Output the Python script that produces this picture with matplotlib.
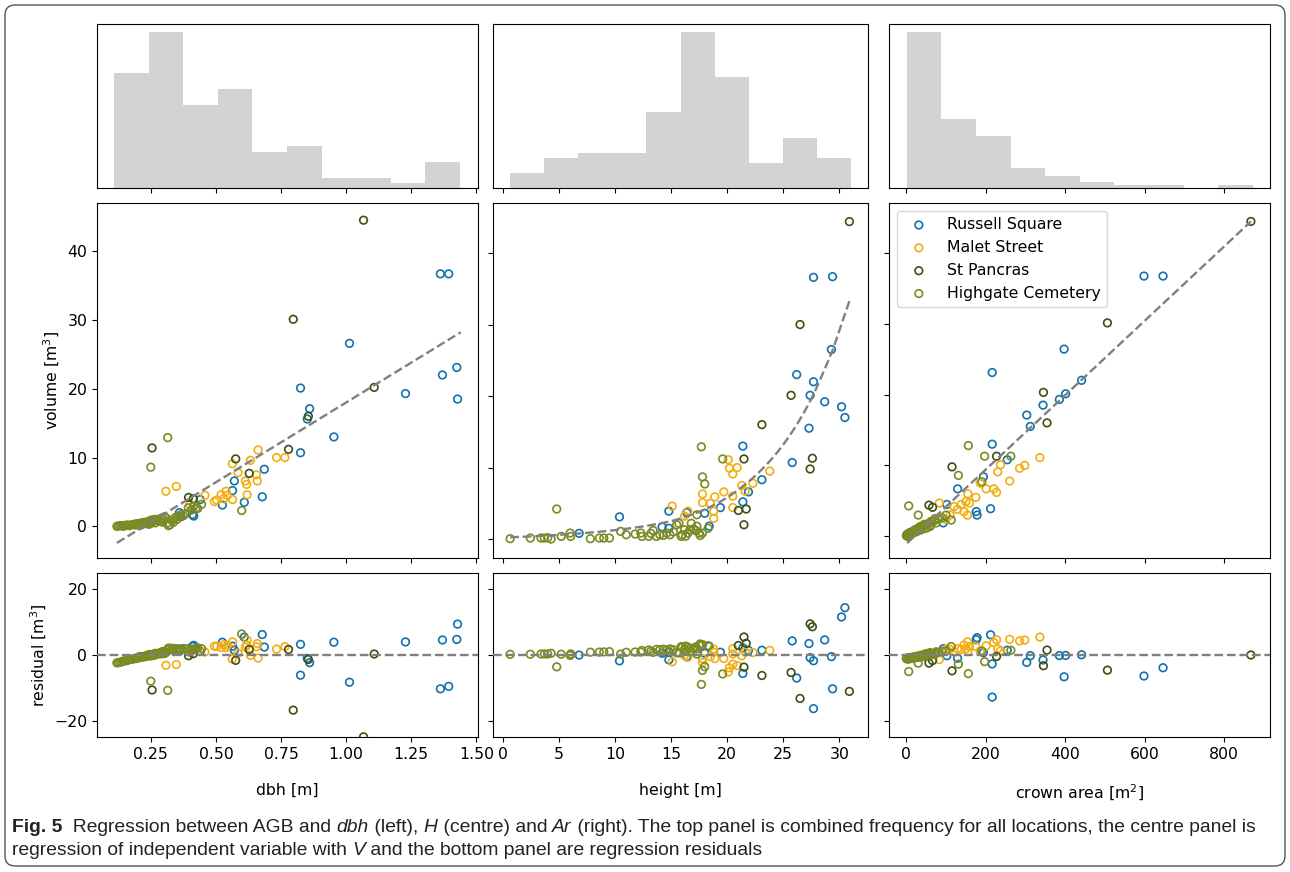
import numpy as np
import matplotlib.pyplot as plt
from matplotlib.patches import FancyBboxPatch

plt.rcParams['font.size'] = 11.3

# locations and their colours
sites = ['Russell Square', 'Malet Street', 'St Pancras', 'Highgate Cemetery']
colours = ['#1172ac', '#f2ae10', '#3f4f12', '#7b8a22']

# combined frequency (top row)
dbh_edges = [0.110, 0.243, 0.375, 0.508, 0.640, 0.773, 0.906, 1.038, 1.171, 1.303, 1.436]
dbh_counts = [22, 30, 16, 19, 7, 8, 2, 2, 1, 5]
h_edges = [0.64, 3.68, 6.72, 9.76, 12.80, 15.84, 18.88, 21.92, 24.96, 28.00, 31.04]
h_counts = [3, 6, 7, 7, 15, 31, 22, 5, 10, 6]
ca_edges = [1.5, 88.5, 175.5, 262.5, 349.5, 436.5, 523.5, 610.5, 697.5, 784.5, 871.5]
ca_counts = [54, 24, 18, 7, 4, 2, 1, 1, 0, 1]

# dbh [m] vs volume [m3]
rs_dbh = [1.362, 1.394, 1.013, 1.425, 1.37, 1.428, 1.228, 0.825, 0.86, 0.851, 0.953, 0.825,
          0.686, 0.678, 0.571, 0.564, 0.525, 0.609, 0.44, 0.41, 0.415, 0.36, 0.365]
rs_dbh_v = [36.7, 36.7, 26.6, 23.1, 22.0, 18.5, 19.3, 20.1, 17.1, 15.6, 13.0, 10.7,
            8.3, 4.3, 6.6, 5.2, 3.1, 3.5, 3.9, 1.7, 1.5, 2.0, 1.4]
ms_dbh = [0.662, 0.733, 0.765, 0.633, 0.563, 0.585, 0.656, 0.659, 0.613, 0.618, 0.62,
          0.539, 0.544, 0.564, 0.494, 0.503, 0.458, 0.308, 0.348, 0.40, 0.52, 0.53]
ms_dbh_v = [11.1, 10.0, 10.0, 9.6, 9.1, 7.8, 7.5, 6.6, 6.6, 6.1, 4.6,
            5.1, 4.5, 3.9, 3.6, 3.8, 4.5, 5.1, 5.8, 3.2, 4.6, 4.0]
sp_dbh = [1.067, 0.797, 1.108, 0.855, 0.576, 0.255, 0.395, 0.413, 0.628, 0.779]
sp_dbh_v = [44.5, 30.1, 20.2, 16.0, 9.8, 11.4, 4.2, 4.0, 7.7, 11.2]
hc_dbh = [0.315, 0.25, 0.599, 0.43, 0.445,
          0.12, 0.126, 0.133, 0.139, 0.145, 0.152, 0.16, 0.168, 0.177, 0.185, 0.19, 0.196,
          0.2, 0.207, 0.212, 0.215, 0.22, 0.225, 0.23, 0.235, 0.24, 0.243, 0.247, 0.25,
          0.255, 0.258, 0.262, 0.267, 0.273, 0.28, 0.286, 0.29, 0.295, 0.299, 0.303, 0.309,
          0.314, 0.318, 0.324, 0.33, 0.337, 0.345, 0.35, 0.356, 0.365, 0.375, 0.388, 0.394,
          0.407, 0.414, 0.424]
hc_dbh_v = [12.9, 8.6, 2.3, 2.6, 3.2,
            0.0, 0.05, 0.1, 0.1, 0.0, 0.15, 0.2, 0.1, 0.25, 0.3, 0.2, 0.4,
            0.35, 0.1, 0.5, 0.25, 0.45, 0.6, 0.4, 0.5, 0.7, 0.3, 0.4, 0.9,
            0.6, 0.75, 1.0, 0.5, 1.0, 0.8, 0.75, 1.2, 0.6, 1.0, 1.4, 1.2,
            0.5, 0.1, 0.25, 0.9, 0.6, 1.3, 1.0, 1.45, 1.7, 1.55, 1.9, 2.7,
            2.4, 2.9, 2.7]
dbh_ticks = [0.25, 0.5, 0.75, 1.0, 1.25, 1.5]
dbh_ticklabels = ['0.25', '0.50', '0.75', '1.00', '1.25', '1.50']

# height [m] vs volume [m3]
rs_h = [27.7, 29.4, 29.3, 26.2, 27.7, 27.4, 28.7, 30.2, 30.5, 27.3, 25.8, 21.4, 23.1, 21.9,
        21.4, 19.4, 18.0, 18.4, 16.4, 14.8, 14.2, 10.4, 6.8, 14.8]
rs_h_v = [36.6, 36.7, 26.5, 23.0, 22.0, 20.1, 19.2, 18.5, 17.0, 15.5, 10.7, 13.0, 8.3, 6.6,
          5.2, 4.4, 3.6, 1.8, 3.7, 3.9, 1.7, 3.1, 0.8, 1.5]
ms_h = [23.8, 20.1, 20.9, 20.2, 20.5, 21.3, 22.3, 21.6, 19.7, 18.9, 20.5, 17.8, 17.8, 18.5,
        20.5, 18.8, 18.8, 15.1, 16.5, 16.2]
ms_h_v = [9.5, 11.1, 10.0, 9.9, 9.1, 7.5, 7.8, 6.7, 6.6, 5.9, 6.0, 6.3, 5.1, 5.0,
          4.4, 3.9, 2.9, 4.6, 3.9, 3.2]
sp_h = [30.9, 26.5, 25.7, 23.1, 27.6, 27.4, 21.5, 21.0, 21.7, 21.5]
sp_h_v = [44.4, 30.0, 20.1, 16.0, 11.3, 9.8, 2.0, 4.0, 4.2, 11.2]
hc_h = [17.7, 19.6, 17.8, 18.0, 4.8, 17.3,
        0.65, 2.45, 3.4, 3.7, 4.0, 4.3, 5.2, 6.0, 6.05, 7.8, 8.6, 9.0, 9.5, 10.5, 11.0, 11.8,
        12.3, 12.4, 13.0, 13.4, 13.7, 14.0, 14.6, 14.9, 15.5, 15.7, 15.9, 16.0, 16.2, 16.5,
        16.7, 16.8, 17.0, 17.2, 17.3, 17.5, 17.8, 13.2, 14.3, 15.2, 16.3, 17.6, 18.3]
hc_h_v = [12.9, 11.2, 8.7, 7.7, 4.2, 3.4,
          0.05, 0.14, 0.14, 0.14, 0.19, 0.0, 0.37, 0.84, 0.37, 0.05, 0.14, 0.14, 0.14, 1.07,
          0.6, 0.7, 0.84, 0.37, 0.37, 1.2, 0.37, 0.6, 0.84, 0.6, 2.0, 2.2, 0.37, 0.6, 1.3,
          0.84, 1.3, 2.2, 1.4, 1.2, 1.8, 0.84, 0.84, 0.8, 0.5, 1.0, 0.4, 0.5, 1.5]

# crown area [m2] vs volume [m3]
rs_ca = [598, 646, 397, 216, 441, 401, 385, 344, 303, 312, 216, 254, 194, 129, 212, 176,
         178, 102, 93, 60, 25]
rs_ca_v = [36.7, 36.7, 26.4, 23.1, 22.0, 20.1, 19.3, 18.5, 17.1, 15.5, 13.0, 10.8, 8.4,
           6.7, 3.9, 3.5, 3.0, 4.5, 1.9, 1.5, 1.0]
ms_ca = [336, 285, 298, 230, 237, 260, 186, 220, 227, 201, 155, 150, 159, 138, 129, 154,
         83, 175, 145, 120, 110, 100]
ms_ca_v = [11.1, 9.6, 10.0, 9.1, 10.1, 7.8, 7.5, 6.7, 6.2, 6.7, 6.0, 4.9, 4.7, 4.5, 3.8,
           3.0, 4.7, 5.5, 3.5, 4.2, 3.0, 2.4]
sp_ca = [867, 506, 345, 354, 227, 115, 57, 66]
sp_ca_v = [44.4, 30.1, 20.3, 16.0, 11.3, 9.8, 4.4, 4.1]
hc_ca = [156, 197, 263, 131, 190, 6, 30, 113,
         0, 2, 3, 5, 6, 8, 10, 12, 14, 16, 18, 20, 22, 25, 27, 30, 33, 36, 40, 43, 46, 50,
         55, 60, 65, 70, 75, 80, 90, 100, 4, 9, 15, 21, 28, 35, 45, 52, 62, 72]
hc_ca_v = [12.8, 11.3, 11.3, 8.6, 7.7, 4.3, 3.0, 2.3,
           0.1, 0.3, 0.0, 0.4, 0.2, 0.5, 0.3, 0.6, 0.4, 0.7, 0.5, 0.8, 0.6, 0.9, 0.7, 1.0,
           1.2, 0.9, 1.3, 1.5, 1.1, 1.6, 1.8, 1.4, 2.0, 2.2, 1.9, 2.4, 2.6, 3.0, 0.15, 0.35,
           0.6, 0.9, 1.1, 1.4, 1.7, 1.2, 2.1, 2.5]

# regression curves
fit_dbh_x = [0.12, 1.44]
fit_dbh_v = [-2.4, 28.2]
fit_h_x = [0.65, 5, 10, 15, 18.5, 21.5, 23.1, 25.8, 27.5, 28.7, 29.4, 30.2, 30.9]
fit_h_v = [0.25, 0.6, 1.25, 2.5, 4.5, 7.5, 9.75, 15.0, 19.6, 23.8, 26.4, 30.1, 33.3]
fit_ca_x = [2, 867]
fit_ca_v = [-0.95, 44.4]


def lin_fit(fx, fv):
    return lambda x: np.interp(x, fx, fv)


def exp_fit(fx, fv):
    return lambda x: np.exp(np.interp(x, fx, np.log(fv)))


W, H = 1290, 872
fig = plt.figure(figsize=(W / 100, H / 100), dpi=100)

cols = [(97, 478), (493, 868), (889, 1270)]
rows = [(24, 188), (203, 558), (573, 737)]


def box(c, r):
    x0, x1 = cols[c]
    y0, y1 = rows[r]
    return [x0 / W, 1 - y1 / H, (x1 - x0) / W, (y1 - y0) / H]


columns = [
    (dbh_edges, dbh_counts, [(rs_dbh, rs_dbh_v), (ms_dbh, ms_dbh_v), (sp_dbh, sp_dbh_v), (hc_dbh, hc_dbh_v)],
     fit_dbh_x, lin_fit(fit_dbh_x, fit_dbh_v), 'dbh [m]', (-4.6, 47.0)),
    (h_edges, h_counts, [(rs_h, rs_h_v), (ms_h, ms_h_v), (sp_h, sp_h_v), (hc_h, hc_h_v)],
     fit_h_x, exp_fit(fit_h_x, fit_h_v), 'height [m]', (-2.65, 47.0)),
    (ca_edges, ca_counts, [(rs_ca, rs_ca_v), (ms_ca, ms_ca_v), (sp_ca, sp_ca_v), (hc_ca, hc_ca_v)],
     fit_ca_x, lin_fit(fit_ca_x, fit_ca_v), r'crown area [m$^2$]', (-3.05, 47.0)),
]

for c, (edges, counts, groups, fx, fit, xlabel, ylim) in enumerate(columns):
    ax_h = fig.add_axes(box(c, 0))
    ax_m = fig.add_axes(box(c, 1), sharex=ax_h)
    ax_r = fig.add_axes(box(c, 2), sharex=ax_h)

    # frequency
    ax_h.hist(edges[:-1], bins=edges, weights=counts, color='lightgray')
    ax_h.set_yticks([])
    ax_h.tick_params(labelbottom=False)

    # volume + regression
    xs = np.linspace(fx[0], fx[-1], 200)
    ax_m.plot(xs, fit(xs), ls='--', color='gray', lw=1.7, zorder=3)
    for (x, v), col, name in zip(groups, colours, sites):
        ax_m.scatter(x, v, s=30, facecolors='none', edgecolors=col, linewidths=1.2, label=name)
        res = fit(np.array(x)) - np.array(v)
        ax_r.scatter(x, res, s=30, facecolors='none', edgecolors=col, linewidths=1.2)
    ax_m.set_ylim(*ylim)
    ax_m.set_yticks([0, 10, 20, 30, 40])
    ax_m.tick_params(labelbottom=False)

    # residuals
    ax_r.axhline(0, ls='--', color='gray', lw=1.7, zorder=3)
    ax_r.set_ylim(-25, 25)
    ax_r.set_yticks([-20, 0, 20])
    ax_r.set_xlabel(xlabel, labelpad=15)

    if c == 0:
        ax_r.set_xticks(dbh_ticks, dbh_ticklabels)
        ax_m.set_ylabel(r'volume [m$^3$]')
        ax_r.set_ylabel(r'residual [m$^3$]')
    else:
        ax_m.tick_params(labelleft=False)
        ax_r.tick_params(labelleft=False)
    if c == 2:
        ax_m.legend(loc='upper left', fontsize=11.3)

# caption underneath
cap = fig.add_axes([0, 0, 1, 1], zorder=-1)
cap.axis('off')
cap_font = ['Liberation Sans Narrow', 'Liberation Sans']


def caption_line(x, y, parts):
    prev = None
    for txt, st in parts:
        kw = dict(fontsize=13.9, family=cap_font, va='bottom', ha='left', color='#222222',
                  weight='bold' if st == 'b' else 'normal',
                  style='italic' if st == 'i' else 'normal')
        if prev is None:
            prev = cap.annotate(txt, xy=(x, H - y), xycoords='figure pixels', **kw)
        else:
            prev = cap.annotate(txt, xy=(1, 0), xycoords=prev, **kw)


caption_line(12, 836, [('Fig. 5', 'b'), ('  Regression between AGB and ', ''), ('dbh', 'i'),
                       (' (left), ', ''), ('H', 'i'), (' (centre) and ', ''), ('Ar', 'i'),
                       (' (right). The top panel is combined frequency for all locations, '
                        'the centre panel is', '')])
caption_line(12, 859, [('regression of independent variable with ', ''), ('V', 'i'),
                       (' and the bottom panel are regression residuals', '')])

frame = FancyBboxPatch((0.05, 0.06), 12.8, 8.61, boxstyle='round,pad=0,rounding_size=0.1',
                       transform=fig.dpi_scale_trans, fill=False, edgecolor='#555555', lw=1.0)
fig.add_artist(frame)

plt.savefig('out.png', dpi=100)
plt.close()
